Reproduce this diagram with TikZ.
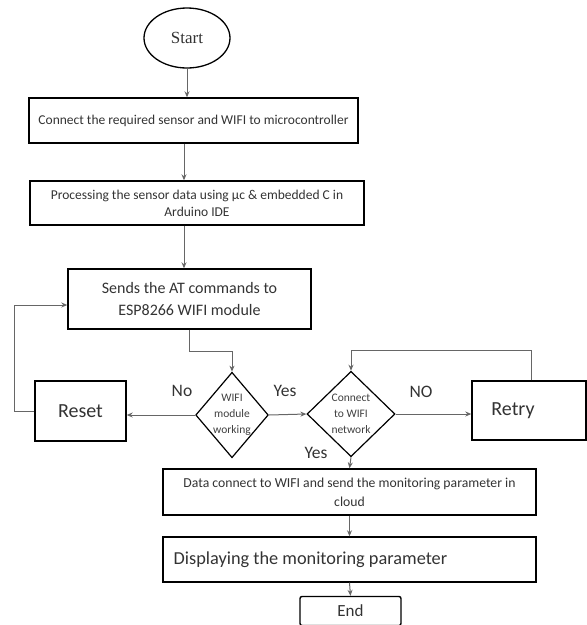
\documentclass[tikz,border=0pt]{standalone}
\usepackage{fontspec}
\setmainfont{Carlito}
\newfontfamily\serifstart{Liberation Serif}
\usetikzlibrary{shapes.geometric,arrows.meta,calc}
\begin{document}
\begin{tikzpicture}[x=1pt,y=-1pt,
  box/.style={draw=black,line width=1.4pt,rectangle,align=center,inner sep=2pt,text=black!80},
  dec/.style={draw=black,line width=1.2pt,diamond,aspect=0.85,inner sep=0pt,align=center,font=\fontsize{11.5}{16}\selectfont,text=black!75},
  arr/.style={draw=black!60,line width=1pt,-{Stealth[length=6pt,width=5pt]}},
  lbl/.style={font=\fontsize{17.5}{19}\selectfont,text=black!80}]
\useasboundingbox (0,0) rectangle (587,625);
\node[draw=black,line width=1.3pt,ellipse,minimum width=86pt,minimum height=60pt,font=\serifstart\fontsize{17}{19}\selectfont,text=black!80] (start) at (187,38) {Start};
\node[box,minimum width=329pt,minimum height=45pt,font=\fontsize{13.5}{15}\selectfont] (b1) at (193.5,120.5) {Connect the required sensor and WIFI to microcontroller};
\node[box,minimum width=334pt,minimum height=44pt,font=\fontsize{13.5}{17}\selectfont] (b2) at (197,203) {Processing the sensor data using µc \& embedded C in\\Arduino IDE};
\node[box,minimum width=243pt,minimum height=60pt,font=\fontsize{16}{22}\selectfont] (b3) at (189.5,299) {Sends the AT commands to\\ESP8266 WIFI module};
\node[dec,minimum width=71pt,minimum height=80pt] (d1) at (232,415) {WIFI\\module\\working};
\node[dec,minimum width=88pt,minimum height=82pt] (d2) at (351,414) {Connect\\to WIFI\\network};
\node[box,minimum width=91pt,minimum height=60pt,font=\fontsize{20}{22}\selectfont] (reset) at (80.5,411) {Reset};
\node[box,minimum width=114pt,minimum height=59pt,font=\fontsize{20}{22}\selectfont] (retry) at (529,410.5) {\hspace*{-32pt}Retry};
\node[box,minimum width=373pt,minimum height=46pt,font=\fontsize{13.7}{19}\selectfont] (b4) at (349.5,492) {Data connect to WIFI and send the monitoring parameter in\\cloud};
\node[box,minimum width=373pt,minimum height=45pt,font=\fontsize{18.3}{20}\selectfont] (b5) at (349.5,559.5) {\hspace*{-78pt}Displaying the monitoring parameter};
\node[box,rounded corners=2pt,minimum width=101pt,minimum height=29pt,font=\fontsize{17}{18}\selectfont] (end) at (350.5,611) {End};
\draw[arr] (start.south) -- (start.south |- b1.north);
\draw[arr] (b1.south -| 184,0) -- (b2.north -| 184,0);
\draw[arr] (b2.south -| 184,0) -- (b3.north -| 184,0);
\draw[arr] (b3.south) -- ++(0,22) coordinate (k1) -| (d1.north);
\draw[arr] (d1.west) -- (d1.west -| reset.east);
\draw[arr] (d1.east) -- (d2.west);
\draw[arr] (d2.east) -- (d2.east -| retry.west);
\draw[arr] ($(retry.north)+(2,0)$) coordinate (k2) -- ++(0,-30) -| (d2.north);
\draw[arr] (reset.west) -- ++(-20,0) coordinate (k3) |- ($(b3.west)+(0,6)$);
\draw[arr] (d2.south) -- (b4.north);
\draw[arr] (b4.south) -- (b5.north);
\draw[arr] (b5.south) -- (end.north);
\node[lbl] (lno) at (182,391) {No};
\node[lbl] (lyes1) at (285,391) {Yes};
\node[lbl] (lNO) at (421,392) {NO};
\node[lbl] (lyes2) at (316,453) {Yes};
\end{tikzpicture}
\end{document}
